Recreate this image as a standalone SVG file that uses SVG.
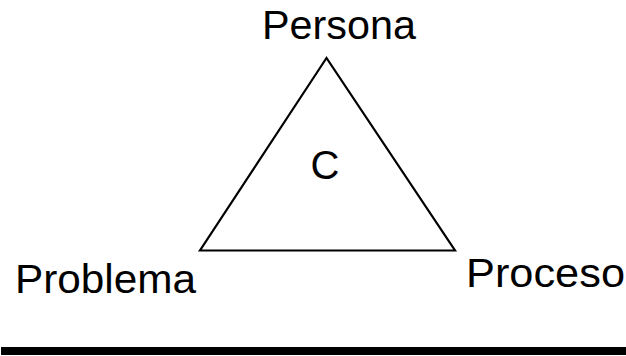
<svg xmlns="http://www.w3.org/2000/svg" width="626" height="356" viewBox="0 0 626 356">
<style>
.lbl{font-family:"Liberation Sans",Arial,sans-serif;font-size:40px;fill:#000}
.edge{fill:none;stroke:#000;stroke-width:2.2;stroke-linejoin:miter}
</style>
<rect width="626" height="356" fill="#fff"/>
<g id="connectors">
<polygon class="edge" points="326.5,58 200,250.5 455,250.5"/>
</g>
<g id="persona"><text class="lbl" x="262" y="39" textLength="154" lengthAdjust="spacingAndGlyphs">Persona</text></g>
<g id="centro"><text class="lbl" x="325" y="178.5" text-anchor="middle">C</text></g>
<g id="problema"><text class="lbl" x="15" y="293" textLength="181" lengthAdjust="spacingAndGlyphs">Problema</text></g>
<g id="proceso"><text class="lbl" x="466" y="287" textLength="159" lengthAdjust="spacingAndGlyphs">Proceso</text></g>
<g id="barra"><rect x="1" y="347" width="625" height="8" fill="#000"/></g>
</svg>
